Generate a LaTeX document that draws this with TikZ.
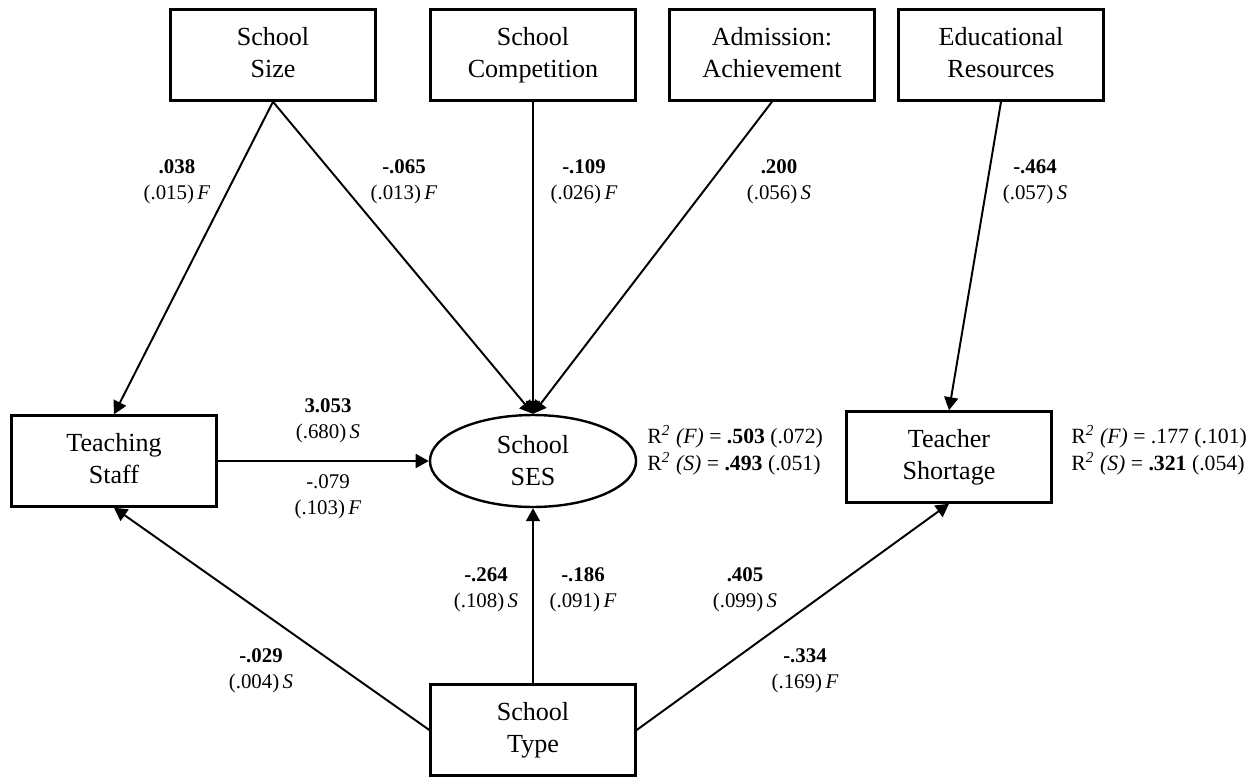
\documentclass[tikz,border=0pt]{standalone}
\usepackage{fontspec}
\setmainfont{Liberation Serif}
\usepackage{tikz}
\usetikzlibrary{positioning}
\usetikzlibrary{arrows.meta}
\usetikzlibrary{shapes.geometric}

\begin{document}
\begin{tikzpicture}[x=0.46pt,y=-0.46pt,
  box/.style={draw, line width=1.1pt, minimum width=94.3pt, minimum height=41.9pt, text depth=.25em, align=center, font=\fontsize{12}{14.7}\selectfont},
  oval/.style={draw, ellipse, line width=1.1pt, minimum width=94.8pt, minimum height=42.3pt, inner sep=0pt, align=center, font=\fontsize{12}{14.7}\selectfont},
  coef/.style={align=center, inner sep=0pt, font=\fontsize{9.6}{12}\selectfont},
  rsq/.style={align=left, anchor=west, inner sep=0pt, font=\fontsize{10}{12.4}\selectfont},
  path/.style={-{Triangle[length=6pt,width=6.4pt]}, line width=.9pt}]
\useasboundingbox (0,0) rectangle (1259,776);

\node(size)[box] at (273,55) {School\\Size};
\node(comp)[box] at (533,55) {School\\Competition};
\node(adm)[box] at (772,55) {Admission:\\Achievement};
\node(edu)[box] at (1001,55) {Educational\\Resources};
\node(staff)[box] at (114,461) {Teaching\\Staff};
\node(ses)[oval] at (533,461) {School\\SES};
\node(short)[box] at (949,457) {Teacher\\Shortage};
\node(type)[box] at (533,730) {School\\Type};

\node(r1)[rsq] at (647,450) {R\textsuperscript{\textit{2}} \textit{(F)} = \textbf{.503} (.072)\\R\textsuperscript{\textit{2}} \textit{(S)} = \textbf{.493} (.051)};
\node(r2)[rsq] at (1071,450) {R\textsuperscript{\textit{2}} \textit{(F)} = .177 (.101)\\R\textsuperscript{\textit{2}} \textit{(S)} = \textbf{.321} (.054)};

\draw[path] (size.south)--(staff.north);
\draw[path] (size.south)--(ses.north);
\draw[path] (comp.south)--(ses.north);
\draw[path] (adm.south)--(ses.north);
\draw[path] (edu.south)--(short.north);
\draw[path] (staff.east)--(ses.west);
\draw[path] (type.north)--(ses.south);
\draw[path] (type.west)--(staff.south);
\draw[path] (type.east)--(short.south);

\node(c1)[coef] at (177,182) {\textbf{.038}\\(.015)\,\textit{F}};
\node(c2)[coef] at (404,182) {\textbf{-.065}\\(.013)\,\textit{F}};
\node(c3)[coef] at (584,182) {\textbf{-.109}\\(.026)\,\textit{F}};
\node(c4)[coef] at (779,182) {\textbf{.200}\\(.056)\,\textit{S}};
\node(c5)[coef] at (1035,182) {\textbf{-.464}\\(.057)\,\textit{S}};
\node(c6)[coef] at (328,421) {\textbf{3.053}\\(.680)\,\textit{S}};
\node(c7)[coef] at (328,497) {-.079\\(.103)\,\textit{F}};
\node(c8)[coef] at (486,590) {\textbf{-.264}\\(.108)\,\textit{S}};
\node(c9)[coef] at (583,590) {\textbf{-.186}\\(.091)\,\textit{F}};
\node(c10)[coef] at (745,590) {\textbf{.405}\\(.099)\,\textit{S}};
\node(c11)[coef] at (261,671) {\textbf{-.029}\\(.004)\,\textit{S}};
\node(c12)[coef] at (805,671) {\textbf{-.334}\\(.169)\,\textit{F}};
\end{tikzpicture}
\end{document}
